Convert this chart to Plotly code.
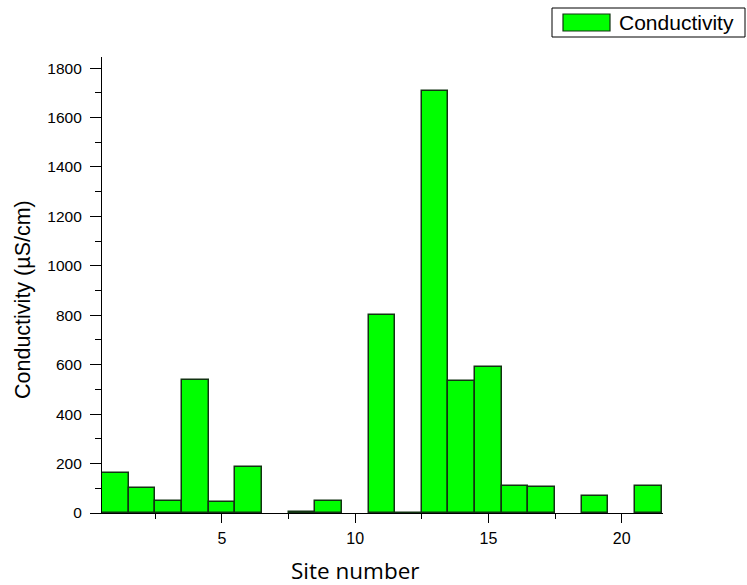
import plotly.graph_objects as go

sites = list(range(1, 22))
# None = no measurement / no bar drawn
conductivity = [163, 100, 48, 538, 43, 187, None, 4, 48, None, 801, 2, 1707, 534, 592, 110, 106, None, 69, None, 108]
x_ticks = [5, 10, 15, 20]
y_ticks = [0, 200, 400, 600, 800, 1000, 1200, 1400, 1600, 1800]

L, R, T, B = 102, 663, 57, 513
W, H = 747, 585

def px(xp):
    return (xp - L) / (R - L)

def py(yp):
    return (B - yp) / (B - T)

fig = go.Figure()
fig.add_trace(go.Bar(
    x=sites, y=conductivity, width=1.0,
    marker=dict(color="#00FF00", line=dict(color="#123312", width=1.5)),
    name="Conductivity", showlegend=False,
))

fig.update_layout(
    width=W, height=H,
    margin=dict(l=L, r=W - R, t=T, b=H - B),
    paper_bgcolor="white", plot_bgcolor="white",
    font=dict(family="Liberation Sans, Arial, sans-serif", color="black"),
    bargap=0,
)
fig.update_xaxes(
    range=[0.5, 21.55], showgrid=False, zeroline=False,
    showline=True, linecolor="black", linewidth=1.2,
    tickvals=x_ticks, ticks="outside", ticklen=9, tickwidth=1.2, tickcolor="black",
    tickfont=dict(size=16), ticklabelstandoff=2,
    minor=dict(dtick=2.5, tick0=0, ticks="outside", ticklen=5, tickwidth=1.2, tickcolor="black"),
)
fig.update_yaxes(
    range=[0, 1845], showgrid=False, zeroline=False,
    showline=True, linecolor="black", linewidth=1.2,
    tickvals=y_ticks, ticks="outside", ticklen=11, tickwidth=1.2, tickcolor="black",
    tickfont=dict(size=15.5), ticklabelstandoff=5,
    minor=dict(dtick=100, tick0=0, ticks="outside", ticklen=6, tickwidth=1.2, tickcolor="black"),
)

# axis titles
fig.add_annotation(text="Site number", xref="paper", yref="paper",
                   x=px(355), y=py(570), xanchor="center", yanchor="middle", showarrow=False,
                   font=dict(family="Open Sans, sans-serif", size=22.5, color="black"))
fig.add_annotation(text="Conductivity (µS/cm)", xref="paper", yref="paper",
                   x=px(23), y=py(300), xanchor="center", yanchor="middle", showarrow=False, textangle=-90,
                   font=dict(family="Liberation Sans, Arial, sans-serif", size=21.5, color="black"))

# custom legend
fig.add_shape(type="rect", xref="paper", yref="paper",
              x0=px(552), x1=px(745), y0=py(37), y1=py(8),
              line=dict(color="black", width=1), fillcolor="white")
fig.add_shape(type="rect", xref="paper", yref="paper",
              x0=px(563), x1=px(610), y0=py(31), y1=py(14),
              line=dict(color="#123312", width=1.2), fillcolor="#00FF00")
fig.add_annotation(text="Conductivity", xref="paper", yref="paper",
                   x=px(617), y=py(22.5), xanchor="left", yanchor="middle", showarrow=False,
                   font=dict(family="Liberation Sans, Arial, sans-serif", size=21, color="black"))

fig.write_html("out.html")
